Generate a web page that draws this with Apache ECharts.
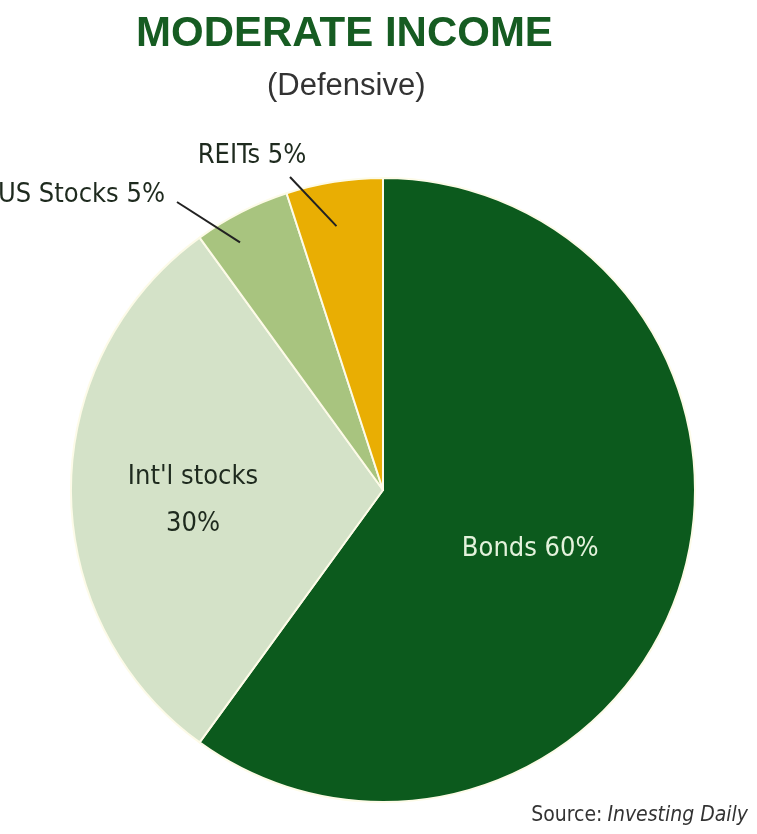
<!DOCTYPE html>
<html>
<head>
<meta charset="utf-8">
<script src="https://cdn.jsdelivr.net/npm/echarts@6/dist/echarts.min.js"></script>
<style>
  html, body { margin: 0; padding: 0; background: #fff; }
  #chart { width: 757px; height: 834px; }
</style>
</head>
<body>
<div id="chart"></div>
<script>
// data
const categories = ['Bonds', "Int'l stocks", 'US Stocks', 'REITs']
const values = [60, 30, 5, 5]
const colors = ['#0c5a1d', '#d4e2c8', '#a8c47f', '#e9ae03']

const condensed = "'Liberation Sans Narrow', 'DejaVu Sans Condensed', 'Roboto Condensed', sans-serif"
const cx = 383, cy = 490, radius = 312

// label looks per slice
const labelStyles = [
  { position: 'inside', color: '#e4f2dc', fontSize: 27, formatter: '{b} {c}%' },
  { position: 'inside', color: '#1e2a1e', fontSize: 27, lineHeight: 47, formatter: '{b}\n{c}%' },
  { position: 'outside', color: '#1e2a1e', fontSize: 27, formatter: '{b} {c}%' },
  { position: 'outside', color: '#1e2a1e', fontSize: 27, formatter: '{b} {c}%' }
]

// middle angle of each slice (degrees, clockwise from 12 o'clock start)
const total = values.reduce((a, b) => a + b, 0)
const midAngles = []
let acc = 0
values.forEach(v => {
  midAngles.push(90 - 360 * (acc + v / 2) / total)
  acc += v
})

// leader lines for the two small slices: start inside slice, end near label
function leader(i, inR, angleShift, end) {
  const a = (midAngles[i] + angleShift) * Math.PI / 180
  return {
    type: 'line',
    silent: true,
    shape: { x1: cx + inR * Math.cos(a), y1: cy - inR * Math.sin(a), x2: end[0], y2: end[1] },
    style: { stroke: '#222', lineWidth: 2 },
    z: 100
  }
}

const myChart = echarts.init(document.getElementById('chart'))
const option = {
  backgroundColor: '#ffffff',
  title: [
    {
      text: 'MODERATE INCOME',
      left: 131,
      top: 8,
      textStyle: { color: '#165c22', fontSize: 42, fontWeight: 'bold', fontFamily: "'Liberation Sans', sans-serif" }
    },
    {
      text: '(Defensive)',
      left: 262,
      top: 66,
      textStyle: { color: '#333', fontSize: 31, fontWeight: 'normal', fontFamily: "'Liberation Sans', sans-serif" }
    },
    {
      text: '{a|Source:} {b|Investing Daily}',
      right: 4,
      top: 800,
      textStyle: {
        fontWeight: 'normal',
        rich: {
          a: { fontSize: 21, color: '#333', fontWeight: 'normal', fontFamily: condensed },
          b: { fontSize: 21, color: '#333', fontWeight: 'normal', fontStyle: 'italic', fontFamily: condensed }
        }
      }
    }
  ],
  graphic: [
    leader(2, 286, 3, [177, 202]),
    leader(3, 268, 1, [290, 177])
  ],
  series: [
    {
      type: 'pie',
      center: [cx, cy],
      radius: radius,
      startAngle: 90,
      clockwise: true,
      animation: false,
      itemStyle: { borderColor: '#fdfbe8', borderWidth: 2 },
      label: { fontFamily: condensed },
      labelLine: { show: false },
      labelLayout: function(params) {
        const i = params.dataIndex
        if (i === 0) return { dx: -4, dy: 10 }
        if (i === 1) return { dx: -31, dy: 10 }
        if (i === 2) return { x: 165, y: 195, align: 'right', verticalAlign: 'middle' }
        return { x: 252, y: 156, align: 'center', verticalAlign: 'middle' }
      },
      data: categories.map((name, i) => ({
        name: name,
        value: values[i],
        itemStyle: { color: colors[i] },
        label: labelStyles[i]
      }))
    }
  ]
}
myChart.setOption(option)
</script>
</body>
</html>
